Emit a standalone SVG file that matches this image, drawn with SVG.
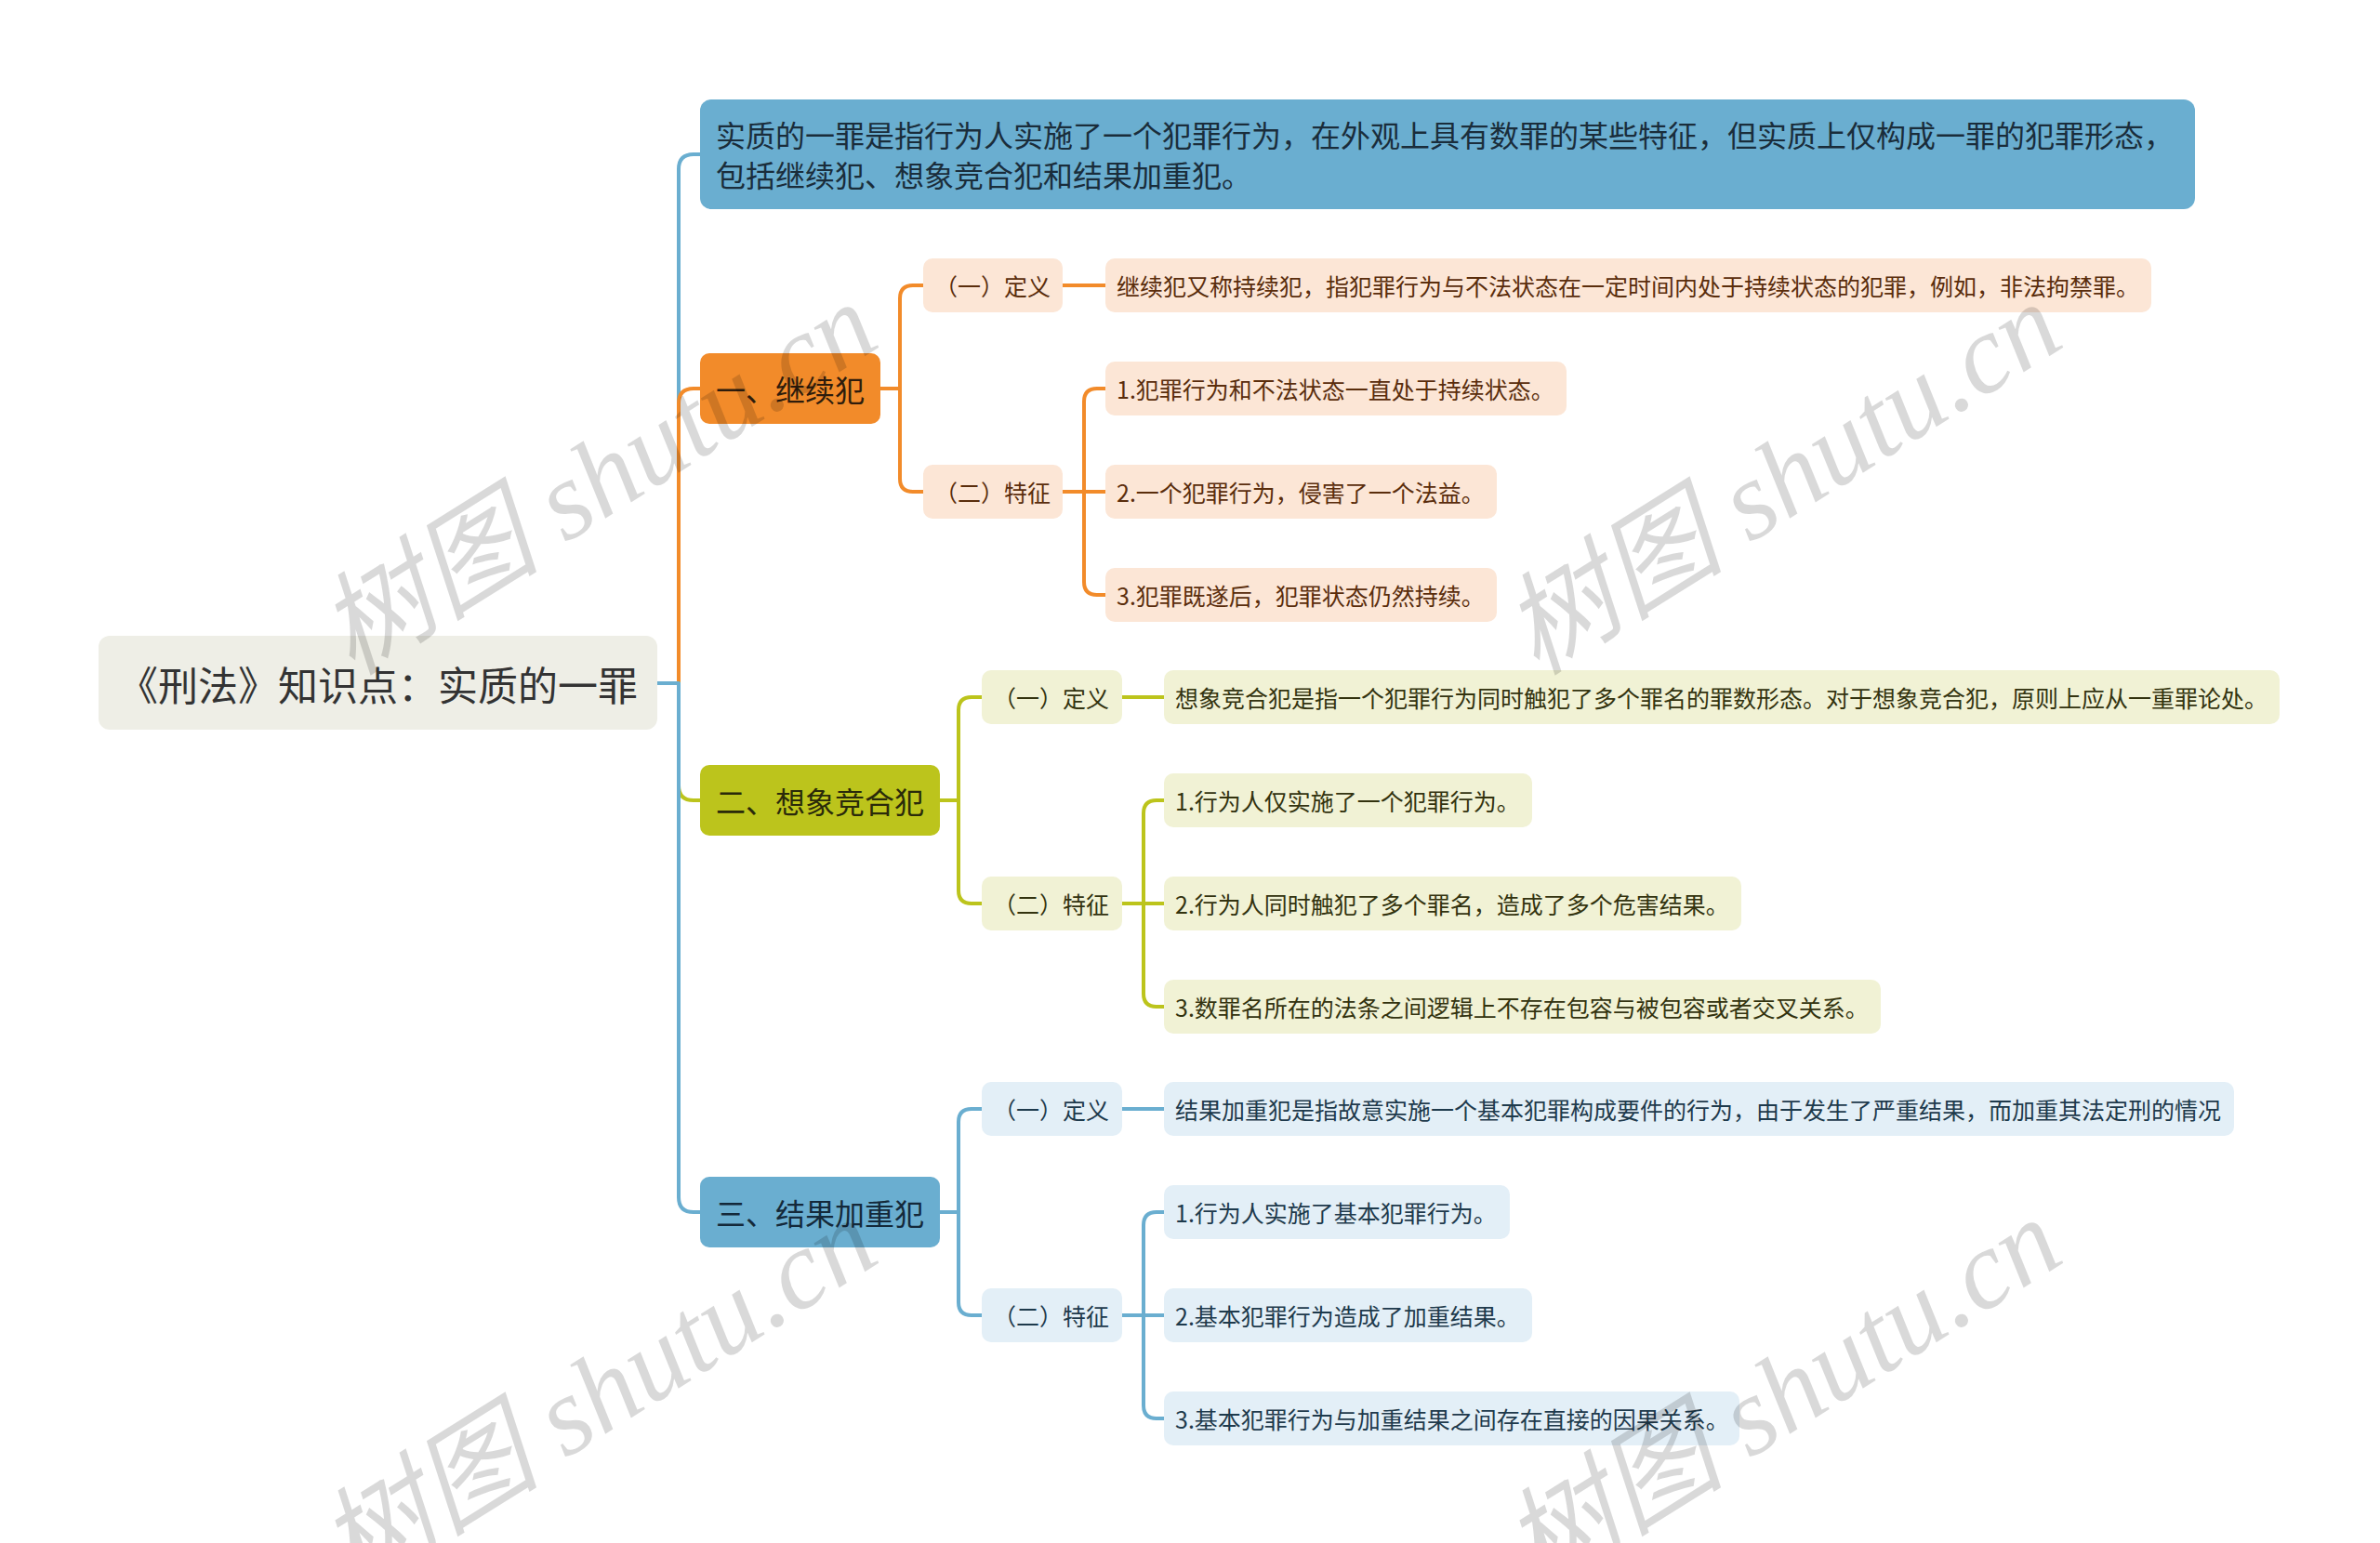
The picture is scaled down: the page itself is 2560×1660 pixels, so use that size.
<svg xmlns="http://www.w3.org/2000/svg" width="2560" height="1660" viewBox="0 0 2560 1660">
<defs>
<style>
text{font-family:"Noto Sans CJK SC","Liberation Sans",sans-serif;dominant-baseline:central}
.c{fill:none;stroke-width:4;stroke-linejoin:round;stroke-linecap:butt}
.co{stroke:#F28B2A}.cg{stroke:#BCC41C}.cb{stroke:#6AAED0}
.s{font-size:25px}
.l1{font-size:32px;text-anchor:middle}
.ob{fill:#F28B2A}.ol{fill:#FCE6D6}.ot{fill:#5A2D0C}
.gb{fill:#BCC41C}.gl{fill:#F1F2D5}.gt{fill:#33330F}
.bb{fill:#6AAED0}.bl{fill:#E3EFF7}.bt{fill:#1E3A4C}
.wm{font-family:"Liberation Serif","Noto Sans CJK SC",serif;font-style:italic;font-size:120px;fill:#000;fill-opacity:0.15;text-anchor:middle}
</style>
</defs>
<rect width="2560" height="1660" fill="#fff"/>

<g id="connectors">
  <path class="c cb" d="M707,735 H730 V182 Q730,166 746,166 H753"/>
  <path class="c co" d="M707,735 H730 V434 Q730,418 746,418 H753"/>
  <path class="c cg" d="M707,735 H730 V845 Q730,861 746,861 H753"/>
  <path class="c cb" d="M707,735 H730 V1288 Q730,1304 746,1304 H753"/>

  <path class="c co" d="M947,418 H968 V321 Q968,307 982,307 H993"/>
  <path class="c co" d="M947,418 H968 V515 Q968,529 982,529 H993"/>
  <path class="c co" d="M1143,307 H1189"/>
  <path class="c co" d="M1143,529 H1166 V432 Q1166,418 1180,418 H1189"/>
  <path class="c co" d="M1143,529 H1189"/>
  <path class="c co" d="M1143,529 H1166 V626 Q1166,640 1180,640 H1189"/>

  <path class="c cg" d="M1011,861 H1031 V764 Q1031,750 1045,750 H1056"/>
  <path class="c cg" d="M1011,861 H1031 V958 Q1031,972 1045,972 H1056"/>
  <path class="c cg" d="M1207,750 H1252"/>
  <path class="c cg" d="M1207,972 H1230 V875 Q1230,861 1244,861 H1252"/>
  <path class="c cg" d="M1207,972 H1252"/>
  <path class="c cg" d="M1207,972 H1230 V1069 Q1230,1083 1244,1083 H1252"/>

  <path class="c cb" d="M1011,1304 H1031 V1207 Q1031,1193 1045,1193 H1056"/>
  <path class="c cb" d="M1011,1304 H1031 V1401 Q1031,1415 1045,1415 H1056"/>
  <path class="c cb" d="M1207,1193 H1252"/>
  <path class="c cb" d="M1207,1415 H1230 V1318 Q1230,1304 1244,1304 H1252"/>
  <path class="c cb" d="M1207,1415 H1252"/>
  <path class="c cb" d="M1207,1415 H1230 V1512 Q1230,1526 1244,1526 H1252"/>
</g>

<g id="root">
  <rect x="106" y="684" width="601" height="101" rx="12" fill="#EEEEE6"/>
  <text x="406.5" y="735" font-size="43" text-anchor="middle" fill="#333">《刑法》知识点：实质的一罪</text>
</g>

<g id="summary">
  <rect x="753" y="107" width="1608" height="118" rx="12" class="bb"/>
  <text x="770" y="144" font-size="32" fill="#1A2D3B">实质的一罪是指行为人实施了一个犯罪行为，在外观上具有数罪的某些特征，但实质上仅构成一罪的犯罪形态，</text>
  <text x="770" y="187" font-size="32" fill="#1A2D3B">包括继续犯、想象竞合犯和结果加重犯。</text>
</g>

<g id="n1">
  <rect x="753" y="380" width="194" height="76" rx="10" class="ob"/>
  <text x="850" y="418" class="l1" fill="#2E1C0C">一、继续犯</text>
</g>
<g id="n1-def">
  <rect x="993" y="278" width="150" height="58" rx="10" class="ol"/>
  <text x="1005" y="307" class="s ot">（一）定义</text>
</g>
<g id="n1-def-text">
  <rect x="1189" y="278" width="1125" height="58" rx="10" class="ol"/>
  <text x="1201" y="307" class="s ot">继续犯又称持续犯，指犯罪行为与不法状态在一定时间内处于持续状态的犯罪，例如，非法拘禁罪。</text>
</g>
<g id="n1-feat">
  <rect x="993" y="500" width="150" height="58" rx="10" class="ol"/>
  <text x="1005" y="529" class="s ot">（二）特征</text>
</g>
<g id="n1-f1">
  <rect x="1189" y="389" width="496" height="58" rx="10" class="ol"/>
  <text x="1201" y="418" class="s ot">1.犯罪行为和不法状态一直处于持续状态。</text>
</g>
<g id="n1-f2">
  <rect x="1189" y="500" width="421" height="58" rx="10" class="ol"/>
  <text x="1201" y="529" class="s ot">2.一个犯罪行为，侵害了一个法益。</text>
</g>
<g id="n1-f3">
  <rect x="1189" y="611" width="421" height="58" rx="10" class="ol"/>
  <text x="1201" y="640" class="s ot">3.犯罪既遂后，犯罪状态仍然持续。</text>
</g>

<g id="n2">
  <rect x="753" y="823" width="258" height="76" rx="10" class="gb"/>
  <text x="882" y="861" class="l1" fill="#2A2A0A">二、想象竞合犯</text>
</g>
<g id="n2-def">
  <rect x="1056" y="721" width="151" height="58" rx="10" class="gl"/>
  <text x="1068" y="750" class="s gt">（一）定义</text>
</g>
<g id="n2-def-text">
  <rect x="1252" y="721" width="1200" height="58" rx="10" class="gl"/>
  <text x="1264" y="750" class="s gt">想象竞合犯是指一个犯罪行为同时触犯了多个罪名的罪数形态。对于想象竞合犯，原则上应从一重罪论处。</text>
</g>
<g id="n2-feat">
  <rect x="1056" y="943" width="151" height="58" rx="10" class="gl"/>
  <text x="1068" y="972" class="s gt">（二）特征</text>
</g>
<g id="n2-f1">
  <rect x="1252" y="832" width="396" height="58" rx="10" class="gl"/>
  <text x="1264" y="861" class="s gt">1.行为人仅实施了一个犯罪行为。</text>
</g>
<g id="n2-f2">
  <rect x="1252" y="943" width="621" height="58" rx="10" class="gl"/>
  <text x="1264" y="972" class="s gt">2.行为人同时触犯了多个罪名，造成了多个危害结果。</text>
</g>
<g id="n2-f3">
  <rect x="1252" y="1054" width="771" height="58" rx="10" class="gl"/>
  <text x="1264" y="1083" class="s gt">3.数罪名所在的法条之间逻辑上不存在包容与被包容或者交叉关系。</text>
</g>

<g id="n3">
  <rect x="753" y="1266" width="258" height="76" rx="10" class="bb"/>
  <text x="882" y="1304" class="l1" fill="#14293A">三、结果加重犯</text>
</g>
<g id="n3-def">
  <rect x="1056" y="1164" width="151" height="58" rx="10" class="bl"/>
  <text x="1068" y="1193" class="s bt">（一）定义</text>
</g>
<g id="n3-def-text">
  <rect x="1252" y="1164" width="1151" height="58" rx="10" class="bl"/>
  <text x="1264" y="1193" class="s bt">结果加重犯是指故意实施一个基本犯罪构成要件的行为，由于发生了严重结果，而加重其法定刑的情况</text>
</g>
<g id="n3-feat">
  <rect x="1056" y="1386" width="151" height="58" rx="10" class="bl"/>
  <text x="1068" y="1415" class="s bt">（二）特征</text>
</g>
<g id="n3-f1">
  <rect x="1252" y="1275" width="372" height="58" rx="10" class="bl"/>
  <text x="1264" y="1304" class="s bt">1.行为人实施了基本犯罪行为。</text>
</g>
<g id="n3-f2">
  <rect x="1252" y="1386" width="396" height="58" rx="10" class="bl"/>
  <text x="1264" y="1415" class="s bt">2.基本犯罪行为造成了加重结果。</text>
</g>
<g id="n3-f3">
  <rect x="1252" y="1497" width="619" height="58" rx="10" class="bl"/>
  <text x="1264" y="1526" class="s bt">3.基本犯罪行为与加重结果之间存在直接的因果关系。</text>
</g>

<g id="watermarks">
  <text class="wm" transform="translate(643,515) rotate(-32)">树图 shutu.cn</text>
  <text class="wm" transform="translate(1917,515) rotate(-32)">树图 shutu.cn</text>
  <text class="wm" transform="translate(643,1500) rotate(-32)">树图 shutu.cn</text>
  <text class="wm" transform="translate(1917,1500) rotate(-32)">树图 shutu.cn</text>
</g>
</svg>
